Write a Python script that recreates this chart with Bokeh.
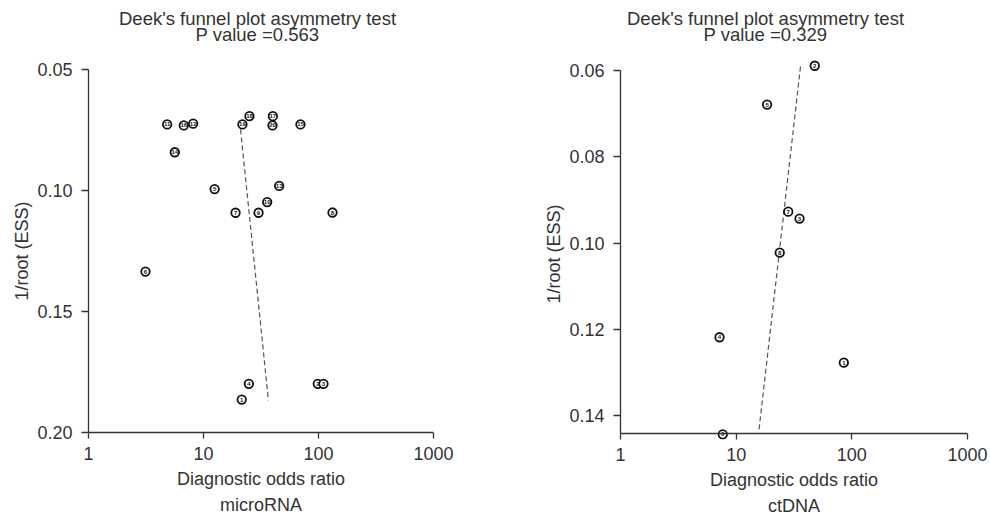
from bokeh.plotting import figure
from bokeh.layouts import row
from bokeh.models import Range1d, FixedTicker, PrintfTickFormatter, Title, Span, Label, ColumnDataSource
from bokeh.embed import file_html
from bokeh.resources import INLINE

# ---------------- data: microRNA ----------------
mi_study = ["11", "16", "12", "14", "19", "18", "17", "20", "15", "5",
            "13", "10", "7", "9", "8", "6", "4", "1", "2", "3"]
mi_dor = [4.83, 6.74, 8.13, 5.63, 21.8, 25.1, 40.1, 39.8, 69.7, 12.5,
          45.5, 35.8, 19.0, 30.1, 132.4, 3.13, 24.8, 21.5, 98.6, 110.5]
mi_inv_root_ess = [0.0727, 0.0731, 0.0724, 0.0842, 0.0727, 0.0693, 0.0693, 0.0731, 0.0727, 0.0994,
                   0.0981, 0.1048, 0.1092, 0.1092, 0.1091, 0.1335, 0.1799, 0.1864, 0.1799, 0.1799]
mi_fit_dor = [21.0, 36.7]
mi_fit_y = [0.0748, 0.1868]
mi_yticks = [0.05, 0.10, 0.15, 0.20]
mi_ylim = (0.05, 0.20)
mi_pvalue = "0.563"
mi_group = "microRNA"

# ---------------- data: ctDNA ----------------
ct_study = ["2", "5", "7", "3", "8", "4", "1", "6"]
ct_dor = [47.8, 18.5, 28.2, 35.3, 23.8, 7.18, 85.3, 7.66]
ct_inv_root_ess = [0.0589, 0.0679, 0.0927, 0.0943, 0.1022, 0.1218, 0.1277, 0.1443]
ct_fit_dor = [36.0, 15.7]
ct_fit_y = [0.0591, 0.1436]
ct_yticks = [0.06, 0.08, 0.10, 0.12, 0.14]
ct_ylim = (0.06, 0.1441)
ct_pvalue = "0.329"
ct_group = "ctDNA"

x_ticks = [1, 10, 100, 1000]

FONT = "Liberation Sans"
TXT = "#333333"
CANVAS_H = 517


def make_panel(study, dor, yv, fit_dor, fit_y, yticks, ylim, pval, group,
               axis_top, axis_bottom, frame_left, frame_width, border_left, border_right,
               title_cx, ylabel_start):
    pad_bot = 6
    scale = (axis_bottom - axis_top) / (ylim[1] - ylim[0])      # px per unit
    decade = frame_width / 3.0                                   # px per decade
    # frame reaches the top of the canvas so the header can sit inside it
    y_top = ylim[0] - axis_top / scale
    y_bot = ylim[1] + pad_bot / scale
    frame_bottom = axis_bottom + pad_bot
    p = figure(x_axis_type="log", x_range=Range1d(1, 1000), y_range=Range1d(y_bot, y_top),
               frame_width=frame_width, frame_height=frame_bottom,
               min_border_top=0, min_border_bottom=CANVAS_H - frame_bottom,
               min_border_left=border_left, min_border_right=border_right,
               output_backend="svg", toolbar_location=None, title=None)
    p.grid.visible = False
    p.outline_line_color = None

    for ax in (p.xaxis[0], p.yaxis[0]):
        ax.axis_line_color = TXT
        ax.axis_line_width = 1.3
        ax.major_tick_line_color = TXT
        ax.major_tick_line_width = 1.3
        ax.minor_tick_in = 0
        ax.minor_tick_out = 0
        ax.major_label_text_font = FONT
        ax.major_label_text_font_size = "18px"
        ax.major_label_text_color = TXT

    # x axis: line drawn by a span at the bottom value; ticks point down from it
    p.xaxis.ticker = FixedTicker(ticks=x_ticks, minor_ticks=[])
    p.xaxis.formatter = PrintfTickFormatter(format="%d")
    p.xaxis.axis_line_color = None
    p.xaxis.major_tick_in = pad_bot
    p.xaxis.major_tick_out = 0
    p.xaxis.major_label_standoff = 8
    p.add_layout(Span(location=ylim[1], dimension="width", line_color=TXT, line_width=1.3))

    p.yaxis.ticker = FixedTicker(ticks=yticks, minor_ticks=[])
    p.yaxis.formatter = PrintfTickFormatter(format="%.2f")
    p.yaxis.bounds = ylim
    p.yaxis.major_tick_in = 0
    p.yaxis.major_tick_out = 7
    p.yaxis.major_label_standoff = 9

    # regression line
    p.line(fit_dor, fit_y, line_color="#555555", line_width=1.2, line_dash="5 3")

    src = ColumnDataSource(dict(x=dor, y=yv, lab=study))
    p.scatter("x", "y", source=src, size=8.5, fill_color="white",
              line_color="#111111", line_width=1.8)
    p.text("x", "y", text="lab", source=src, text_font_size="6px",
           text_align="center", text_baseline="middle", text_color="#111111",
           text_font_style="bold")

    # header (inside the frame area above the y axis)
    hx = 10 ** ((title_cx - frame_left) / decade)
    for txt, py in (("Deek's funnel plot asymmetry test", 18), ("P value =" + pval, 34)):
        p.add_layout(Label(x=hx, y=ylim[0] - (axis_top - py) / scale, text=txt,
                           text_font=FONT, text_font_size="18.5px", text_color=TXT,
                           text_align="center", text_baseline="middle"))

    common = dict(text_font=FONT, text_font_size="18px", text_color=TXT,
                  text_font_style="normal")
    p.add_layout(Title(text="Diagnostic odds ratio", standoff=8, align="center", **common), "below")
    p.add_layout(Title(text=group, standoff=0, align="center", **common), "below")
    p.add_layout(Title(text="1/root (ESS)", standoff=6, align="left",
                       offset=frame_bottom - ylabel_start, **common), "left")
    return p


left = make_panel(mi_study, mi_dor, mi_inv_root_ess, mi_fit_dor, mi_fit_y, mi_yticks, mi_ylim,
                  mi_pvalue, mi_group,
                  axis_top=69, axis_bottom=432, frame_left=88, frame_width=345,
                  border_left=88, border_right=87, title_cx=257, ylabel_start=300)
right = make_panel(ct_study, ct_dor, ct_inv_root_ess, ct_fit_dor, ct_fit_y, ct_yticks, ct_ylim,
                   ct_pvalue, ct_group,
                   axis_top=70, axis_bottom=433, frame_left=620, frame_width=347,
                   border_left=100, border_right=23, title_cx=765, ylabel_start=303)

layout = row(left, right)
open("out.html", "w").write(file_html(layout, INLINE))
